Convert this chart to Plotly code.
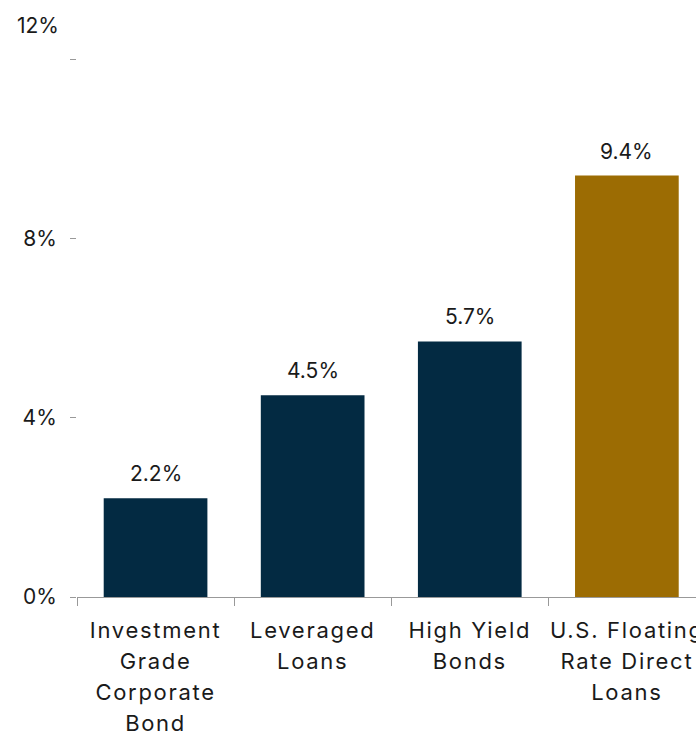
import plotly.graph_objects as go

category_lines = [["Investment", "Grade", "Corporate", "Bond"], ["Leveraged", "Loans"], ["High Yield", "Bonds"],
                  ["U.S. Floating", "Rate Direct", "Loans"]]
values = [2.2, 4.5, 5.7, 9.4]
bar_labels = ["2.2%", "4.5%", "5.7%", "9.4%"]
bar_colors = ["#032A42", "#032A42", "#032A42", "#9C6C03"]
y_tickvals = [0, 4, 8, 12]
y_ticktext = ["0%", "4%", "8%", ""]

FONT = "Inter"
TXT = "#1a1a1a"

categories = [" ".join(lines) for lines in category_lines]
ticktext = ["<br>".join('<span style="font-size:22px;letter-spacing:1.7px">%s</span>' % l for l in lines)
            for lines in category_lines]

fig = go.Figure()
fig.add_trace(go.Bar(x=categories, y=values, marker=dict(color=bar_colors, line=dict(width=0)),
                     width=0.66, hoverinfo="skip"))

for c, v, t in zip(categories, values, bar_labels):
    fig.add_annotation(x=c, y=v, text=t, showarrow=False, yanchor="bottom", yshift=10,
                       font=dict(family=FONT, size=21, color=TXT))

fig.add_annotation(xref="paper", yref="paper", x=0, y=1, xanchor="right", yanchor="middle",
                   xshift=-16, yshift=34, text="12%", showarrow=False,
                   font=dict(family=FONT, size=21, color=TXT))

fig.update_layout(
    width=696, height=732,
    margin=dict(l=77, r=0, t=59, b=135, autoexpand=False),
    plot_bgcolor="white", paper_bgcolor="white",
    showlegend=False,
    font=dict(family=FONT, size=21, color=TXT),
)
fig.update_xaxes(type="category", range=[-0.5, 3.44], tickson="boundaries", ticks="outside",
                 tickvals=categories, ticktext=ticktext, tickangle=0, automargin=False,
                 ticklen=8, tickcolor="#999999", showline=True, linecolor="#999999", linewidth=1,
                 showgrid=False, zeroline=False, tickfont=dict(family=FONT, size=24, color=TXT),
                 ticklabelstandoff=11)
fig.update_yaxes(range=[0, 12], tickvals=y_tickvals, ticktext=y_ticktext, ticks="outside", ticklen=6,
                 automargin=False,
                 tickcolor="#999999", showline=False, showgrid=False, zeroline=False,
                 tickfont=dict(family=FONT, size=21, color=TXT), ticklabelstandoff=9)

fig.write_html("out.html", config={"displayModeBar": False},
               post_script="document.body.style.margin='0';document.body.style.overflow='hidden';")
